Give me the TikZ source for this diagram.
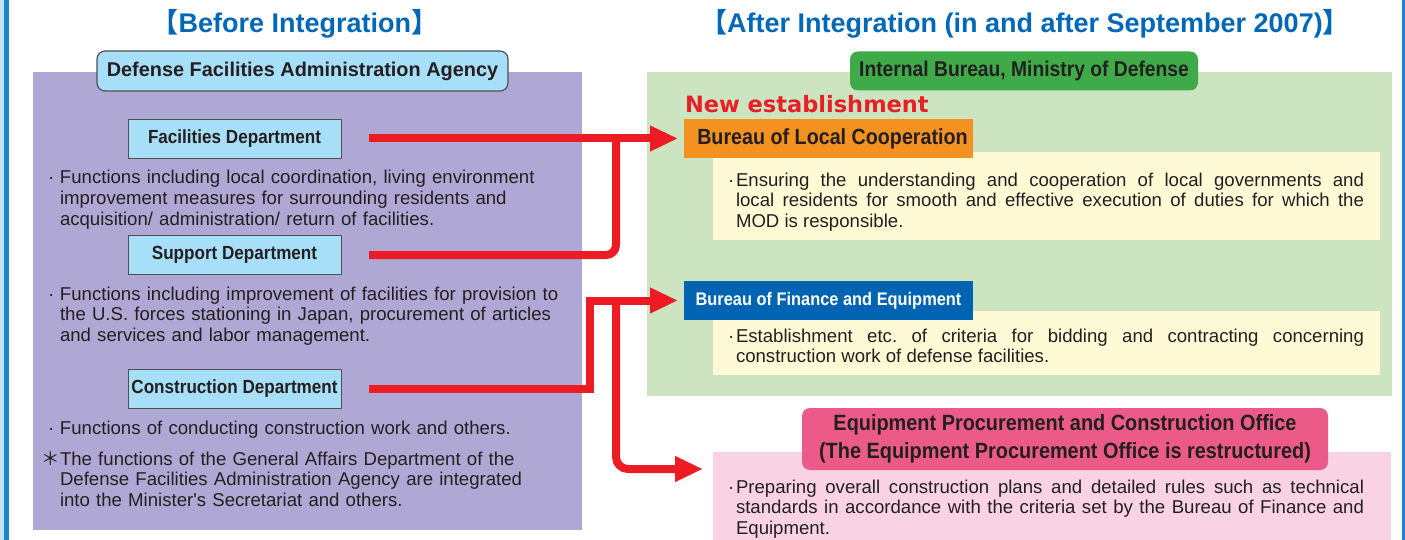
\documentclass[tikz,border=0pt]{standalone}
\usepackage{fontspec}
\setmainfont{Liberation Sans}
\newfontfamily\cjkfont{Noto Sans CJK JP}
\newfontfamily\widefont{DejaVu Sans}
\newfontfamily\headfont{Liberation Sans}[FakeStretch=0.9]
\usetikzlibrary{arrows.meta, positioning}
\frenchspacing

\definecolor{ink}{RGB}{35,31,32}
\definecolor{titleblue}{RGB}{0,104,183}
\definecolor{frameblue}{RGB}{30,132,204}
\definecolor{paleblue}{RGB}{195,228,246}
\definecolor{lavender}{RGB}{176,168,212}
\definecolor{skyblue}{RGB}{168,223,248}
\definecolor{boxgray}{RGB}{80,80,80}
\definecolor{mintgreen}{RGB}{205,228,193}
\definecolor{leafgreen}{RGB}{62,170,72}
\definecolor{newred}{RGB}{232,30,40}
\definecolor{orangebox}{RGB}{243,146,32}
\definecolor{creamy}{RGB}{255,250,214}
\definecolor{bureaublue}{RGB}{0,100,178}
\definecolor{rosepink}{RGB}{236,90,137}
\definecolor{palepink}{RGB}{249,211,227}
\definecolor{arrowred}{RGB}{237,28,36}

\newcommand\dotmark[1]{\leftskip=#1\noindent\hspace*{-#1}\makebox[#1][l]{·}}
\newcommand\starmark{\leftskip=12pt\noindent\hspace*{-12pt}\makebox[12pt][l]{\makebox[6pt]{\cjkfont ＊}}}

\tikzset{
  x=1pt, y=-1pt,
  every node/.style={inner sep=0pt, outer sep=0pt, text=ink},
  panel/.style={anchor=north west},
  title/.style={anchor=base, text=titleblue, font=\bfseries\fontsize{27}{30}\selectfont},
  agencybox/.style={draw=boxgray, line width=1.2pt, fill=skyblue, rounded corners=8pt,
    minimum width=411pt, minimum height=40pt, font=\bfseries\fontsize{19.9}{22}\selectfont},
  deptbox/.style={draw=boxgray, line width=0.8pt, fill=skyblue, minimum width=213pt,
    minimum height=39pt, font=\headfont\bfseries\fontsize{19}{22}\selectfont},
  labelbox/.style={anchor=north west, minimum width=289pt, minimum height=39pt},
  bodytext/.style={anchor=base west, text width=#1, font=\fontsize{18.6}{20.6}\selectfont},
  lefttext/.style={bodytext=520pt, align=left},
  righttext/.style={bodytext=636pt, align=justify},
  redline/.style={draw=arrowred, line width=8pt},
  redarrow/.style={redline, -{Triangle[length=28pt, width=24pt]}},
}

\begin{document}
\begin{tikzpicture}
  \useasboundingbox (0,0) rectangle (1405,540);

  % frame
  \fill[paleblue] (0,0) rectangle (3.5,540);
  \fill[frameblue] (3.5,0) rectangle (9,540);
  \fill[frameblue] (1402,0) rectangle (1405,540);

  % titles
  \node[title] (titleL) at (295,33) {{\cjkfont 【}Before Integration{\cjkfont 】}};
  \node[title] (titleR) at (1025,33) {{\cjkfont 【}After Integration (in and after September 2007){\cjkfont 】}};

  % before integration
  \node[panel, fill=lavender, minimum width=549pt, minimum height=458pt] (before) at (33,72) {};
  \node[agencybox] (agency) at (302.5,71) {Defense Facilities Administration Agency};
  \node[deptbox] (fac) at (234.5,138.5) {Facilities Department};
  \node[deptbox, below=77.5pt of fac] (sup) {Support Department};
  \node[deptbox, below=95pt of sup] (con) {Construction Department};

  \node[lefttext] (facT) at (48,184) {\dotmark{12pt}Functions including local coordination, living environment\\
    improvement measures for surrounding residents and\\
    acquisition/ administration/ return of facilities.\par};
  \node[lefttext] (supT) at (48,300) {\dotmark{12pt}Functions including improvement of facilities for provision to\\
    the U.S. forces stationing in Japan, procurement of articles\\
    and services and labor management.\par};
  \node[lefttext] (conT) at (48,434) {\dotmark{12pt}Functions of conducting construction work and others.\par};
  \node[lefttext] (noteT) at (48,465) {\starmark The functions of the General Affairs Department of the\\
    Defense Facilities Administration Agency are integrated\\
    into the Minister\textquotesingle s Secretariat and others.\par};

  % after integration
  \node[panel, fill=mintgreen, minimum width=745pt, minimum height=324pt] (after) at (647,72) {};
  \node[fill=leafgreen, rounded corners=8pt, minimum width=348pt, minimum height=39pt,
    font=\headfont\bfseries\fontsize{21.4}{24}\selectfont] (internal) at (1024,71)
    {Internal Bureau, Ministry of Defense};
  \node[anchor=base west, text=newred, font=\widefont\bfseries\fontsize{22.5}{24}\selectfont]
    (newest) at (685,113) {New establishment};

  \node[panel, fill=creamy, minimum width=667pt, minimum height=88pt] (yel1) at (713,152) {};
  \node[labelbox, fill=orangebox, font=\headfont\bfseries\fontsize{21.9}{24}\selectfont]
    (loc) at (684,119) {\hspace*{8pt}Bureau of Local Cooperation};
  \node[righttext] (locT) at (728,186) {\dotmark{8pt}Ensuring the understanding and cooperation of local governments and\linebreak
    local residents for smooth and effective execution of duties for which the\linebreak
    MOD is responsible.\par};

  \node[panel, fill=creamy, minimum width=667pt, minimum height=64pt] (yel2) at (713,311) {};
  \node[labelbox, fill=bureaublue, text=white, font=\headfont\bfseries\fontsize{18.2}{20}\selectfont]
    (fin) at (684,281) {Bureau of Finance and Equipment};
  \node[righttext] (finT) at (728,342) {\dotmark{8pt}Establishment etc. of criteria for bidding and contracting concerning\linebreak
    construction work of defense facilities.\par};

  \node[panel, fill=palepink, minimum width=678pt, minimum height=100pt] (epcbg) at (713,452) {};
  \node[fill=rosepink, rounded corners=8pt, minimum width=526pt, minimum height=62pt, align=center,
    font=\headfont\bfseries\fontsize{22.1}{28}\selectfont] (epc) at (1065,439)
    {Equipment Procurement and Construction Office\\(The Equipment Procurement Office is restructured)};
  \node[righttext] (epcT) at (728,493) {\dotmark{8pt}Preparing overall construction plans and detailed rules such as technical\linebreak
    standards in accordance with the criteria set by the Bureau of Finance and\linebreak
    Equipment.\par};

  % arrows
  \coordinate (j1) at (616,138.5);
  \coordinate (j2) at (590,300.5);
  \coordinate (j3) at (616,300.5);
  \draw[redarrow, shorten >=6pt] ([xshift=28pt]fac.east) -- (loc.west);
  \draw[redline, rounded corners=10pt] ([xshift=28pt]sup.east) -| (j1);
  \draw[redarrow, shorten >=6pt] ([xshift=28pt]con.east) -| (j2) -- (fin.west);
  \draw[redarrow, rounded corners=12pt, shorten >=10pt] (j3) |- ([yshift=-17pt]epcbg.north west);
\end{tikzpicture}
\end{document}
